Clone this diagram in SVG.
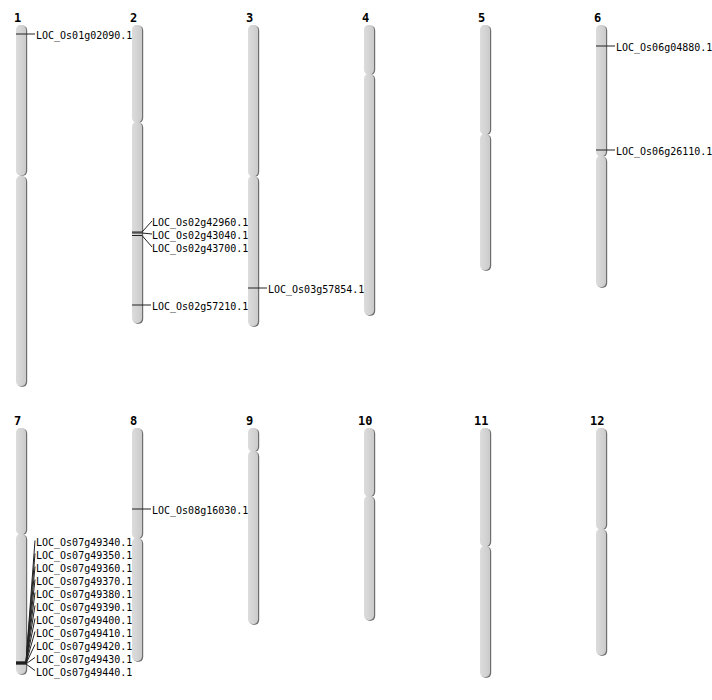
<svg xmlns="http://www.w3.org/2000/svg" width="712" height="700" viewBox="0 0 712 700">
<defs>
<linearGradient id="g" x1="0" y1="0" x2="1" y2="0">
<stop offset="0" stop-color="#dcdcdc"/>
<stop offset="0.5" stop-color="#d4d4d4"/>
<stop offset="1" stop-color="#cbcbcb"/>
</linearGradient>
</defs>
<style>
.sh{fill:#6e6e6e}
.arm{fill:url(#g)}
.num{font-family:"DejaVu Sans Mono","Liberation Mono",monospace;font-weight:bold;font-size:12px;fill:#000}
.lbl{font-family:"DejaVu Sans Mono","Liberation Mono",monospace;font-size:10px;fill:#000}
.mk{stroke:#222;stroke-width:1;fill:none}
</style>
<rect width="712" height="700" fill="#fff"/>
<g id="chr1"><text class="num" x="14" y="21.5">1</text>
<rect class="sh" x="17.2" y="25.8" width="10" height="150" rx="4" ry="5"/><rect class="sh" x="17.2" y="176.8" width="10" height="210" rx="4" ry="5"/>
<rect class="arm" x="16" y="25" width="10" height="150.5" rx="4" ry="5"/><rect class="arm" x="16" y="176" width="10" height="210" rx="4" ry="5"/></g>
<g id="chr2"><text class="num" x="130" y="21.5">2</text>
<rect class="sh" x="133.2" y="25.8" width="10" height="97" rx="4" ry="5"/><rect class="sh" x="133.2" y="122.8" width="10" height="201" rx="4" ry="5"/>
<rect class="arm" x="132" y="25" width="10" height="97.5" rx="4" ry="5"/><rect class="arm" x="132" y="122" width="10" height="201" rx="4" ry="5"/></g>
<g id="chr3"><text class="num" x="246" y="21.5">3</text>
<rect class="sh" x="249.2" y="25.8" width="10" height="151" rx="4" ry="5"/><rect class="sh" x="249.2" y="176.8" width="10" height="150" rx="4" ry="5"/>
<rect class="arm" x="248" y="25" width="10" height="151.5" rx="4" ry="5"/><rect class="arm" x="248" y="176" width="10" height="150" rx="4" ry="5"/></g>
<g id="chr4"><text class="num" x="362" y="21.5">4</text>
<rect class="sh" x="365.2" y="25.8" width="10" height="49" rx="4" ry="5"/><rect class="sh" x="365.2" y="74.8" width="10" height="241" rx="4" ry="5"/>
<rect class="arm" x="364" y="25" width="10" height="49.5" rx="4" ry="5"/><rect class="arm" x="364" y="74" width="10" height="241" rx="4" ry="5"/></g>
<g id="chr5"><text class="num" x="478" y="21.5">5</text>
<rect class="sh" x="481.2" y="25.8" width="10" height="109" rx="4" ry="5"/><rect class="sh" x="481.2" y="134.8" width="10" height="136" rx="4" ry="5"/>
<rect class="arm" x="480" y="25" width="10" height="109.5" rx="4" ry="5"/><rect class="arm" x="480" y="134" width="10" height="136" rx="4" ry="5"/></g>
<g id="chr6"><text class="num" x="594" y="21.5">6</text>
<rect class="sh" x="597.2" y="25.8" width="10" height="131" rx="4" ry="5"/><rect class="sh" x="597.2" y="156.8" width="10" height="131" rx="4" ry="5"/>
<rect class="arm" x="596" y="25" width="10" height="131.5" rx="4" ry="5"/><rect class="arm" x="596" y="156" width="10" height="131" rx="4" ry="5"/></g>
<g id="chr7"><text class="num" x="14" y="424.5">7</text>
<rect class="sh" x="17.2" y="428.8" width="10" height="106" rx="4" ry="5"/><rect class="sh" x="17.2" y="534.8" width="10" height="140" rx="4" ry="5"/>
<rect class="arm" x="16" y="428" width="10" height="106.5" rx="4" ry="5"/><rect class="arm" x="16" y="534" width="10" height="140" rx="4" ry="5"/></g>
<g id="chr8"><text class="num" x="130" y="424.5">8</text>
<rect class="sh" x="133.2" y="428.8" width="10" height="110" rx="4" ry="5"/><rect class="sh" x="133.2" y="538.8" width="10" height="123" rx="4" ry="5"/>
<rect class="arm" x="132" y="428" width="10" height="110.5" rx="4" ry="5"/><rect class="arm" x="132" y="538" width="10" height="123" rx="4" ry="5"/></g>
<g id="chr9"><text class="num" x="246" y="424.5">9</text>
<rect class="sh" x="249.2" y="428.8" width="10" height="23" rx="4" ry="5"/><rect class="sh" x="249.2" y="451.8" width="10" height="173" rx="4" ry="5"/>
<rect class="arm" x="248" y="428" width="10" height="23.5" rx="4" ry="5"/><rect class="arm" x="248" y="451" width="10" height="173" rx="4" ry="5"/></g>
<g id="chr10"><text class="num" x="358" y="424.5">10</text>
<rect class="sh" x="365.2" y="428.8" width="10" height="68" rx="4" ry="5"/><rect class="sh" x="365.2" y="496.8" width="10" height="124" rx="4" ry="5"/>
<rect class="arm" x="364" y="428" width="10" height="68.5" rx="4" ry="5"/><rect class="arm" x="364" y="496" width="10" height="124" rx="4" ry="5"/></g>
<g id="chr11"><text class="num" x="474" y="424.5">11</text>
<rect class="sh" x="481.2" y="428.8" width="10" height="118" rx="4" ry="5"/><rect class="sh" x="481.2" y="546.8" width="10" height="131" rx="4" ry="5"/>
<rect class="arm" x="480" y="428" width="10" height="118.5" rx="4" ry="5"/><rect class="arm" x="480" y="546" width="10" height="131" rx="4" ry="5"/></g>
<g id="chr12"><text class="num" x="590" y="424.5">12</text>
<rect class="sh" x="597.2" y="428.8" width="10" height="101" rx="4" ry="5"/><rect class="sh" x="597.2" y="529.8" width="10" height="126" rx="4" ry="5"/>
<rect class="arm" x="596" y="428" width="10" height="101.5" rx="4" ry="5"/><rect class="arm" x="596" y="529" width="10" height="126" rx="4" ry="5"/></g>
<g id="connectors">
<path class="mk" d="M16 34H35"/>
<path class="mk" d="M132 232H142L152 221M132 233H142L152 234M132 235.5H142L152 247"/>
<path class="mk" d="M132 305H151"/>
<path class="mk" d="M248 288H267"/>
<path class="mk" d="M596 46H615"/>
<path class="mk" d="M596 150H615"/>
<path class="mk" d="M132 509H151"/>
<path class="mk" d="M16 662H26L35 540.5M16 662.2H26L35 553.5M16 662.4H26L35 566.5M16 662.6H26L35 579.5M16 662.8H26L35 592.5M16 663H26L35 605.5M16 663.2H26L35 618.5M16 663.4H26L35 631.5M16 663.6H26L35 644.5M16 663.8H26L35 657.5M16 664H26L35 670.5"/>
</g>
<g id="labels">
<text class="lbl" x="36" y="39">LOC_Os01g02090.1</text>
<text class="lbl" x="152" y="226">LOC_Os02g42960.1</text>
<text class="lbl" x="152" y="239">LOC_Os02g43040.1</text>
<text class="lbl" x="152" y="252">LOC_Os02g43700.1</text>
<text class="lbl" x="152" y="310">LOC_Os02g57210.1</text>
<text class="lbl" x="268" y="293">LOC_Os03g57854.1</text>
<text class="lbl" x="616" y="51">LOC_Os06g04880.1</text>
<text class="lbl" x="616" y="155">LOC_Os06g26110.1</text>
<text class="lbl" x="152" y="514">LOC_Os08g16030.1</text>
<text class="lbl" x="36" y="545.5">LOC_Os07g49340.1</text>
<text class="lbl" x="36" y="558.5">LOC_Os07g49350.1</text>
<text class="lbl" x="36" y="571.5">LOC_Os07g49360.1</text>
<text class="lbl" x="36" y="584.5">LOC_Os07g49370.1</text>
<text class="lbl" x="36" y="597.5">LOC_Os07g49380.1</text>
<text class="lbl" x="36" y="610.5">LOC_Os07g49390.1</text>
<text class="lbl" x="36" y="623.5">LOC_Os07g49400.1</text>
<text class="lbl" x="36" y="636.5">LOC_Os07g49410.1</text>
<text class="lbl" x="36" y="649.5">LOC_Os07g49420.1</text>
<text class="lbl" x="36" y="662.5">LOC_Os07g49430.1</text>
<text class="lbl" x="36" y="675.5">LOC_Os07g49440.1</text>
</g>
</svg>
